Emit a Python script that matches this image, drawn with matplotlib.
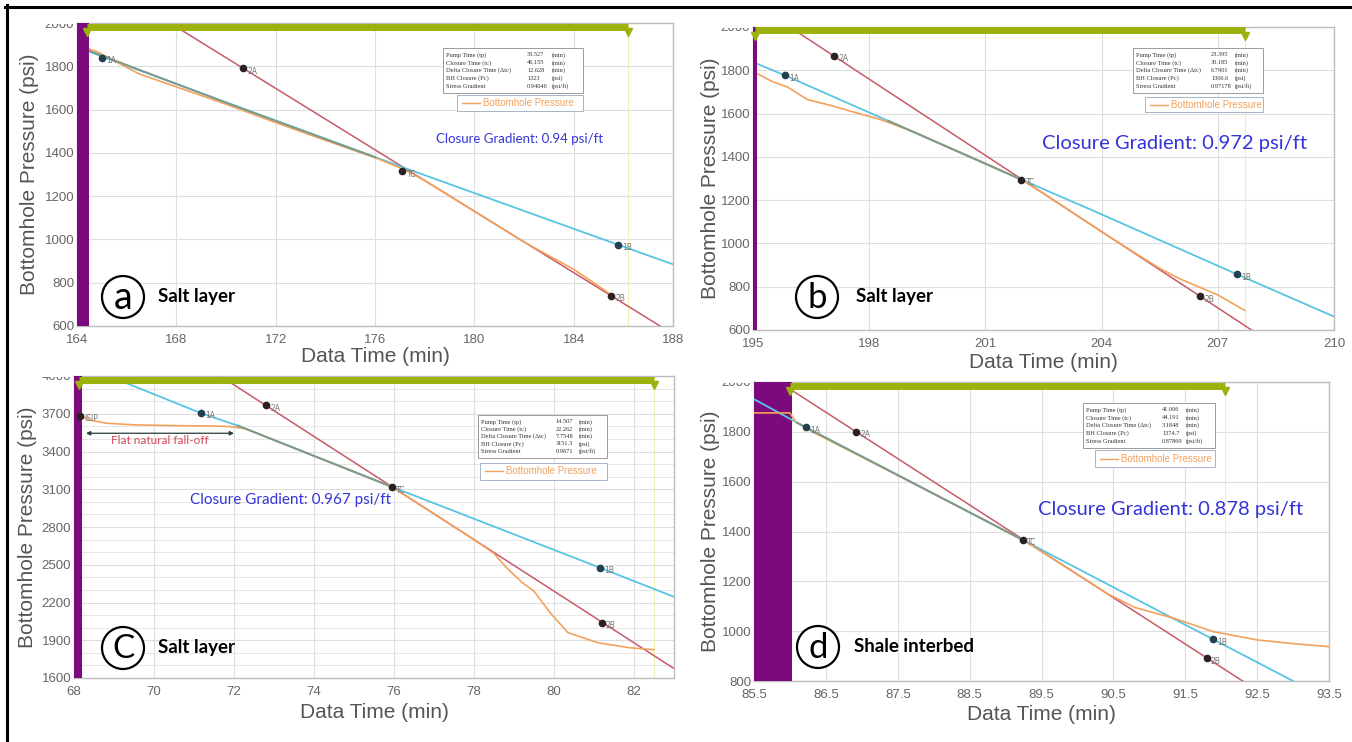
import matplotlib
matplotlib.use('Agg')
import matplotlib.pyplot as plt
import matplotlib.transforms as mtransforms
from matplotlib.patches import Rectangle, Ellipse
from matplotlib import font_manager

# ---------------- shared text ----------------
table_labels = ['Pump Time (tp)', 'Closure Time (tc)', 'Delta Closure Time (\u0394tc)',
                'BH Closure (Pc)', 'Stress Gradient']
table_units = ['(min)', '(min)', '(min)', '(psi)', '(psi/ft)']
legend_label = 'Bottomhole Pressure'
xlabel_text = 'Data Time (min)'
ylabel_text = 'Bottomhole Pressure (psi)'

# ---------------- panel a ----------------
a_xticks = [164, 168, 172, 176, 180, 184, 188]
a_yticks = [600, 800, 1000, 1200, 1400, 1600, 1800, 2000]
a_pump_x = [164.0, 164.48]
a_window_x = [164.4, 186.2]
a_red_x = [167.7, 188.0]
a_red_y = [2003, 563]
a_cyan_x = [164.0, 165.0, 177.2, 185.8, 188.0]
a_cyan_y = [1890, 1845, 1330, 975, 885]
a_fit_x = [164.3, 170.0, 176.0]
a_fit_y = [1880, 1632, 1380]
a_bhp_x = [164.3, 164.8, 166.5, 168.0, 170.0, 172.0, 174.0, 176.0, 177.2, 178.0, 179.0,
           180.0, 181.0, 182.0, 183.0, 184.0, 184.8, 185.5]
a_bhp_y = [1888, 1868, 1765, 1705, 1625, 1540, 1458, 1378, 1322, 1272, 1201,
           1130, 1059, 988, 925, 862, 800, 745]
a_pt_names = ['1A', '2A', 'TC', '1B', '2B']
a_pt_x = [165.0, 170.7, 177.1, 185.8, 185.5]
a_pt_y = [1840, 1790, 1315, 975, 740]
a_table_vals = ['33.527', '46.155', '12.628', '1323', '0.94046']
a_gradient = 'Closure Gradient: 0.94 psi/ft'
a_letter, a_layer = 'a', 'Salt layer'

# ---------------- panel b ----------------
b_xticks = [195, 198, 201, 204, 207, 210]
b_yticks = [600, 800, 1000, 1200, 1400, 1600, 1800, 2000]
b_pump_x = [195.0, 195.1]
b_window_x = [195.05, 207.7]
b_red_x = [196.0, 208.1]
b_red_y = [1994, 573]
b_cyan_x = [195.0, 195.83, 201.93, 203.75, 207.5, 210.0]
b_cyan_y = [1838, 1776, 1295, 1154, 857, 662]
b_fit_x = [198.5, 201.9]
b_fit_y = [1566, 1297]
b_bhp_x = [195.05, 195.5, 195.9, 196.4, 197.0, 197.5, 198.3, 199.2, 200.0, 200.9, 201.93,
           202.5, 203.0, 204.0, 205.0, 205.5, 206.0, 206.5, 207.0, 207.7]
b_bhp_y = [1790, 1748, 1722, 1665, 1638, 1612, 1572, 1512, 1448, 1378, 1295,
           1231, 1172, 1054, 940, 885, 838, 800, 762, 690]
b_pt_names = ['1A', '2A', 'TC', '1B', '2B']
b_pt_x = [195.83, 197.1, 201.93, 207.5, 206.55]
b_pt_y = [1776, 1865, 1295, 857, 755]
b_table_vals = ['23.395', '30.185', '6.7901', '1306.6', '0.97178']
b_gradient = 'Closure Gradient: 0.972 psi/ft'
b_letter, b_layer = 'b', 'Salt layer'

# ---------------- panel c ----------------
c_xticks = [68, 70, 72, 74, 76, 78, 80, 82]
c_yticks = [1600, 1900, 2200, 2500, 2800, 3100, 3400, 3700, 4000]
c_pump_x = [68.0, 68.2]
c_window_x = [68.13, 82.5]
c_red_x = [71.7, 83.0]
c_red_y = [3991, 1675]
c_cyan_x = [69.3, 71.17, 72.1, 75.94, 81.16, 83.0]
c_cyan_y = [3945, 3705, 3605, 3120, 2475, 2245]
c_fit_x = [72.1, 75.94]
c_fit_y = [3605, 3120]
c_bhp_x = [68.15, 68.4, 68.8, 69.5, 70.5, 71.5, 71.9, 72.3, 75.94, 77.0, 78.0, 78.5,
           78.8, 79.2, 79.5, 79.9, 80.35, 81.1, 81.9, 82.5]
c_bhp_y = [3685, 3650, 3625, 3612, 3606, 3602, 3598, 3580, 3120, 2905, 2700, 2590,
           2480, 2360, 2290, 2120, 1960, 1880, 1840, 1825]
c_pt_names = ['ISIP', '1A', '2A', 'TC', '1B', '2B']
c_pt_x = [68.15, 71.17, 72.8, 75.94, 81.16, 81.19]
c_pt_y = [3685, 3705, 3766, 3114, 2475, 2040]
c_table_vals = ['14.507', '22.262', '7.7548', '3151.3', '0.9671']
c_gradient = 'Closure Gradient: 0.967 psi/ft'
c_letter, c_layer = 'C', 'Salt layer'
c_falloff_x = [68.3, 72.0]
c_falloff_y = 3545
c_falloff_text = 'Flat natural fall-off'

# ---------------- panel d ----------------
d_xticks = [85.5, 86.5, 87.5, 88.5, 89.5, 90.5, 91.5, 92.5, 93.5]
d_yticks = [800, 1000, 1200, 1400, 1600, 1800, 2000]
d_pump_x = [85.5, 86.03]
d_window_x = [86.0, 92.05]
d_red_x = [86.03, 92.4]
d_red_y = [1966, 781]
d_cyan_x = [85.5, 86.22, 89.24, 91.89, 93.1]
d_cyan_y = [1931, 1818, 1366, 967, 785]
d_fit_x = [86.1, 89.2]
d_fit_y = [1836, 1372]
d_bhp_x = [85.5, 86.0, 86.08, 86.3, 87.5, 89.24, 89.6, 90.0, 90.43, 90.8, 91.33, 91.89,
           92.5, 93.0, 93.5]
d_bhp_y = [1876, 1876, 1840, 1802, 1625, 1366, 1301, 1228, 1148, 1095, 1053, 998,
           965, 950, 938]
d_pt_names = ['1A', '2A', 'TC', '1B', '2B']
d_pt_x = [86.22, 86.92, 89.24, 91.89, 91.8]
d_pt_y = [1818, 1800, 1366, 967, 891]
d_table_vals = ['41.006', '44.191', '3.1848', '1374.7', '0.87869']
d_gradient = 'Closure Gradient: 0.878 psi/ft'
d_letter, d_layer = 'd', 'Shale interbed'

# ---------------- styling ----------------
W, H = 1352, 742
avail = {f.name for f in font_manager.fontManager.ttflist}
TICK_FONT = 'Liberation Sans Narrow' if 'Liberation Sans Narrow' in avail else 'Liberation Sans'
LABEL_FONT = 'Liberation Sans'
PURPLE = '#7d0a7d'
GREEN = '#9db10c'
RED = '#c65b66'
CYAN = '#58c4e4'
ORANGE = '#f2a25c'
FIT = '#7e9a8a'
BLUE = '#3434d8'

fig = plt.figure(figsize=(W / 100, H / 100), dpi=100)
fig.patch.set_facecolor('white')


def fx(x):
    return x / W


def fy(y):
    return 1 - y / H


def panel(box, xlim, ylim, xticks, yticks, pump_x, window_x, red_x, red_y, cyan_x, cyan_y,
          fit_x, fit_y, bhp_x, bhp_y, names, pt_x, pt_y, lines_over_pump=False,
          minor_y=None, xlab_off=32, ylab_off=46):
    left, top, right, bottom = box
    wpx, hpx = right - left, bottom - top
    ax = fig.add_axes([fx(left), fy(bottom), wpx / W, hpx / H])
    ax.set_xlim(*xlim)
    ax.set_ylim(*ylim)
    ax.set_xticks(xticks)
    ax.set_xticklabels([('%g' % t) for t in xticks])
    ax.set_yticks(yticks)
    if minor_y is not None:
        ax.set_yticks(minor_y, minor=True)
        ax.grid(True, which='minor', axis='y', color='#e6e6e6', lw=0.7)
    ax.grid(True, which='major', color='#dedede', lw=0.8)
    ax.set_axisbelow(True)
    ax.tick_params(which='both', length=0, labelsize=9.5, labelcolor='#666666')
    ax.tick_params(axis='x', pad=6)
    ax.tick_params(axis='y', pad=2)
    for lab in ax.get_xticklabels() + ax.get_yticklabels():
        lab.set_family(TICK_FONT)
    for s in ax.spines.values():
        s.set_color('#bdbdbd')
        s.set_linewidth(1.0)
    ax.set_xlabel(xlabel_text, fontsize=15, color='#555555', family=LABEL_FONT)
    ax.set_ylabel(ylabel_text, fontsize=15, color='#555555', family=LABEL_FONT)
    ax.xaxis.label.set_va('center')
    ax.yaxis.label.set_va('center')
    ax.xaxis.set_label_coords(0.5, -xlab_off / hpx)
    ax.yaxis.set_label_coords(-ylab_off / wpx, 0.5)

    zl = 5 if lines_over_pump else 2
    ax.axvspan(pump_x[0], pump_x[1], color=PURPLE, lw=0, zorder=4)
    for xv in window_x:
        ax.axvline(xv, color='#eef0b8', lw=0.8, zorder=1)
    ax.plot(red_x, red_y, color=RED, lw=1.1, zorder=zl)
    ax.plot(cyan_x, cyan_y, color=CYAN, lw=1.3, zorder=zl)
    ax.plot(bhp_x, bhp_y, color=ORANGE, lw=1.2, zorder=zl + 0.1)
    ax.plot(fit_x, fit_y, color=FIT, lw=1.4, zorder=zl + 0.2)
    for n, x, y in zip(names, pt_x, pt_y):
        col = '#24404e' if n in ('1A', '1B') else '#2a2222'
        ax.plot([x], [y], 'o', ms=4.5, color=col, zorder=6)
        ax.annotate(n, (x, y), xytext=(3, -2), textcoords='offset points', fontsize=5.5,
                    color='#777777', va='center', ha='left', zorder=6)
    trans = mtransforms.blended_transform_factory(ax.transData, ax.transAxes)
    ax.plot(window_x, [1 - 3.5 / hpx] * 2, color=GREEN, lw=5, solid_capstyle='butt',
            transform=trans, clip_on=False, zorder=7)
    ax.plot(window_x, [1 - 9 / hpx] * 2, 'v', ms=5.5, color=GREEN, transform=trans,
            clip_on=False, zorder=7)
    return ax


def info_table(x0, y0, x1, y1, vals):
    fig.add_artist(Rectangle((fx(x0), fy(y1)), (x1 - x0) / W, (y1 - y0) / H,
                             transform=fig.transFigure, fc='white', ec='#8c8c8c', lw=0.6,
                             zorder=8))
    n = len(table_labels)
    step = (y1 - y0 - 6) / n
    w = x1 - x0
    for i, (lab, v, u) in enumerate(zip(table_labels, vals, table_units)):
        yy = y0 + 3 + step * (i + 0.5)
        kw = dict(fontsize=4.6, color='#333333', family='Liberation Serif', va='center',
                  zorder=9)
        fig.text(fx(x0 + 3), fy(yy), lab, ha='left', **kw)
        fig.text(fx(x0 + 0.6 * w), fy(yy), v, ha='left', **kw)
        fig.text(fx(x0 + 0.78 * w), fy(yy), u, ha='left', **kw)


def legend_box(x0, y0, x1, y1):
    fig.add_artist(Rectangle((fx(x0), fy(y1)), (x1 - x0) / W, (y1 - y0) / H,
                             transform=fig.transFigure, fc='white', ec='#a4b4c6', lw=0.7,
                             zorder=8))
    yc = (y0 + y1) / 2
    fig.add_artist(plt.Line2D([fx(x0 + 5), fx(x0 + 23)], [fy(yc), fy(yc)],
                              transform=fig.transFigure, color=ORANGE, lw=1.0, zorder=9))
    fig.text(fx(x0 + 26), fy(yc), legend_label, fontsize=7, color=ORANGE,
             family=LABEL_FONT, va='center', ha='left', zorder=9)


def tag(cx, cy, letter, layer, layer_x, size=25):
    fig.add_artist(Ellipse((fx(cx), fy(cy)), 42 / W, 42 / H, transform=fig.transFigure,
                           fc='white', ec='black', lw=1.6, zorder=8))
    fig.text(fx(cx), fy(cy + 1), letter, fontsize=size, family='Lato', weight='normal',
             ha='center', va='center', color='black', zorder=9)
    fig.text(fx(layer_x), fy(cy), layer, fontsize=13.5, family='Lato', weight='bold',
             ha='left', va='center', color='black', zorder=9)


def cover(x0, y0, x1, y1):
    fig.add_artist(Rectangle((fx(x0), fy(y1)), (x1 - x0) / W, (y1 - y0) / H,
                             transform=fig.transFigure, fc='white', ec='none', zorder=7))


# ---- panel a ----
panel((77, 23, 673, 326), (164, 188), (600, 2000), a_xticks, a_yticks, a_pump_x, a_window_x,
      a_red_x, a_red_y, a_cyan_x, a_cyan_y, a_fit_x, a_fit_y, a_bhp_x, a_bhp_y,
      a_pt_names, a_pt_x, a_pt_y, xlab_off=31, ylab_off=47)
info_table(443, 48, 583, 93, a_table_vals)
legend_box(457, 95, 583, 111)
fig.text(fx(520), fy(139), a_gradient, fontsize=9.5, color=BLUE, family='Lato',
         ha='center', va='center', zorder=9)
tag(123, 297, a_letter, a_layer, 158, size=27)

# ---- panel b ----
panel((753, 27, 1334, 330), (195, 210), (600, 2000), b_xticks, b_yticks, b_pump_x, b_window_x,
      b_red_x, b_red_y, b_cyan_x, b_cyan_y, b_fit_x, b_fit_y, b_bhp_x, b_bhp_y,
      b_pt_names, b_pt_x, b_pt_y, xlab_off=32, ylab_off=43)
info_table(1133, 48, 1263, 93, b_table_vals)
legend_box(1145, 97, 1263, 112)
fig.text(fx(1174), fy(143), b_gradient, fontsize=14.5, color=BLUE, family='Lato',
         ha='center', va='center', zorder=9)
tag(817, 297, b_letter, b_layer, 856)

# ---- panel c ----
axc = panel((74, 376, 674, 678), (68, 83), (1600, 4000), c_xticks, c_yticks, c_pump_x,
            c_window_x, c_red_x, c_red_y, c_cyan_x, c_cyan_y, c_fit_x, c_fit_y, c_bhp_x,
            c_bhp_y, c_pt_names, c_pt_x, c_pt_y,
            minor_y=[v for v in range(1600, 4001, 100)], xlab_off=34, ylab_off=46)
axc.annotate('', xy=(c_falloff_x[0], c_falloff_y), xytext=(c_falloff_x[1], c_falloff_y),
             arrowprops=dict(arrowstyle='<|-|>', color='#233a3a', lw=0.9,
                             mutation_scale=6, shrinkA=0, shrinkB=0), zorder=6)
axc.text((c_falloff_x[0] + c_falloff_x[1]) / 2, c_falloff_y - 55, c_falloff_text,
         fontsize=8.5, color='#d24a58', family='Lato', ha='center', va='center', zorder=6)
info_table(478, 415, 607, 458, c_table_vals)
legend_box(480, 463, 607, 480)
fig.text(fx(290), fy(500), c_gradient, fontsize=11, color=BLUE, family='Lato',
         ha='center', va='center', zorder=9)
tag(123, 648, c_letter, c_layer, 158, size=24)

# ---- panel d ----
panel((754, 382, 1329, 681), (85.5, 93.5), (800, 2000), d_xticks, d_yticks, d_pump_x,
      d_window_x, d_red_x, d_red_y, d_cyan_x, d_cyan_y, d_fit_x, d_fit_y, d_bhp_x, d_bhp_y,
      d_pt_names, d_pt_x, d_pt_y, lines_over_pump=True, xlab_off=34, ylab_off=44)
info_table(1083, 403, 1215, 448, d_table_vals)
legend_box(1095, 450, 1215, 467)
fig.text(fx(1171), fy(510), d_gradient, fontsize=14.5, color=BLUE, family='Lato',
         ha='center', va='center', zorder=9)
tag(818, 647, d_letter, d_layer, 854)

# clip the top tick labels like the cropped screenshots
cover(30, 9, 76, 23.5)
cover(705, 9, 752, 27.5)
cover(30, 366, 73, 377)
cover(705, 368, 753, 382.5)

# outer frame (top and left)
fig.add_artist(plt.Line2D([fx(5), fx(1352)], [fy(6.5), fy(6.5)], transform=fig.transFigure,
                          color='black', lw=2.2, zorder=10))
fig.add_artist(plt.Line2D([fx(6.5), fx(6.5)], [fy(5), fy(742)], transform=fig.transFigure,
                          color='black', lw=2.2, zorder=10))

fig.savefig('out.png', dpi=100)
